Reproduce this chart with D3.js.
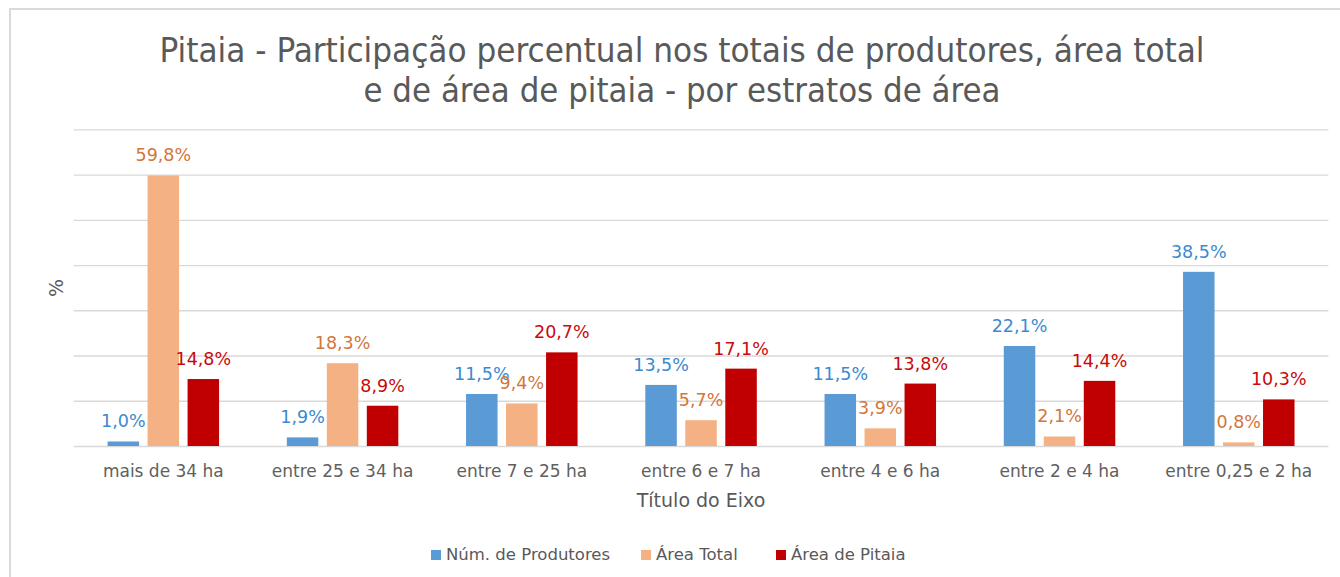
<!DOCTYPE html>
<html>
<head>
<meta charset="utf-8">
<script src="https://cdn.jsdelivr.net/npm/d3@7"></script>
<style>
    body { margin: 0; background: #fff; }
    svg { display: block; }
    text { font-family: 'DejaVu Sans', sans-serif; }
</style>
</head>
<body>
<div id="chart"></div>
<script>
const categories = ['mais de 34 ha', 'entre 25 e 34 ha', 'entre 7 e 25 ha', 'entre 6 e 7 ha', 'entre 4 e 6 ha', 'entre 2 e 4 ha', 'entre 0,25 e 2 ha'];
const seriesNames = ['Núm. de Produtores', 'Área Total', 'Área de Pitaia'];
const produtores = [1.0, 1.9, 11.5, 13.5, 11.5, 22.1, 38.5];
const areaTotal = [59.8, 18.3, 9.4, 5.7, 3.9, 2.1, 0.8];
const areaPitaia = [14.8, 8.9, 20.7, 17.1, 13.8, 14.4, 10.3];
const gridTicks = [0, 10, 20, 30, 40, 50, 60, 70];

const titleLines = ['Pitaia - Participação percentual nos totais de produtores, área total', 'e de área de pitaia - por estratos de área'];

const barColors = ['#5b9bd5', '#f4b183', '#c00000'];
const labelColors = ['#3a8ad0', '#d2773a', '#c80a0a'];

const WIDTH = 1340;
const HEIGHT = 577;
const plot = { left: 73.7, right: 1328.4, top: 129.3, bottom: 446 };

const svg = d3.select('#chart').append('svg').attr('width', WIDTH).attr('height', HEIGHT);

// frame of the pasted chart
svg.append('line').attr('x1', 9).attr('x2', WIDTH).attr('y1', 9).attr('y2', 9)
    .attr('stroke', '#d9d9d9').attr('stroke-width', 2);
svg.append('line').attr('x1', 10).attr('x2', 10).attr('y1', 8).attr('y2', HEIGHT)
    .attr('stroke', '#d9d9d9').attr('stroke-width', 2);

// title (condensed look, squeezed to the reference width)
svg.append('g').selectAll('text').data(titleLines).enter().append('text')
    .attr('x', 682)
    .attr('y', (d, i) => 62 + i * 40)
    .attr('text-anchor', 'middle')
    .attr('textLength', (d, i) => (i === 0 ? 1045 : 637))
    .attr('lengthAdjust', 'spacingAndGlyphs')
    .style('font-family', "'Liberation Sans Narrow', 'DejaVu Sans Condensed', sans-serif")
    .style('font-size', '33px')
    .attr('fill', '#595959')
    .text((d) => d);

const xScale = d3.scaleBand().domain(categories).range([plot.left, plot.right]);
const groupWidth = 111.5;
const subScale = d3.scaleBand().domain(seriesNames).range([0, groupWidth]).paddingInner(0.2125);
const yScale = d3.scaleLinear().domain([0, 70]).range([plot.bottom, plot.top]);

// horizontal grid lines
svg.append('g')
    .attr('transform', `translate(${plot.left}, 0)`)
    .call(d3.axisLeft(yScale).tickValues(gridTicks).tickSize(-(plot.right - plot.left)).tickFormat(''))
    .call((g) => g.select('.domain').remove())
    .call((g) => g.selectAll('.tick line').attr('stroke', '#d9d9d9').attr('stroke-width', 1.3));

const data = [];
categories.forEach((c, i) => {
    [produtores, areaTotal, areaPitaia].forEach((vals, s) => {
        data.push({ cat: c, series: seriesNames[s], s, value: vals[i] });
    });
});

const offset = (xScale.bandwidth() - groupWidth) / 2;
const barX = (d) => xScale(d.cat) + offset + subScale(d.series);

svg.append('g').selectAll('rect').data(data).enter().append('rect')
    .attr('x', barX)
    .attr('y', (d) => yScale(d.value))
    .attr('width', subScale.bandwidth())
    .attr('height', (d) => yScale(0) - yScale(d.value))
    .attr('fill', (d) => barColors[d.s]);

// value labels
svg.append('g').selectAll('text').data(data).enter().append('text')
    .attr('x', (d) => barX(d) + subScale.bandwidth() / 2)
    .attr('y', (d) => yScale(d.value) - 14)
    .attr('text-anchor', 'middle')
    .style('font-size', '17.5px')
    .attr('fill', (d) => labelColors[d.s])
    .text((d) => d3.format('.1f')(d.value).replace('.', ',') + '%');

// category axis
const xAxis = svg.append('g')
    .attr('transform', `translate(0, ${plot.bottom})`)
    .call(d3.axisBottom(xScale).tickSize(0).tickPadding(24));
xAxis.select('.domain').remove();
xAxis.selectAll('text')
    .attr('dy', 0)
    .attr('y', 31)
    .style('font-family', "'DejaVu Sans', sans-serif")
    .style('font-size', '17px')
    .attr('fill', '#606060');

// axis titles
svg.append('text')
    .attr('x', (plot.left + plot.right) / 2)
    .attr('y', 507)
    .attr('text-anchor', 'middle')
    .style('font-size', '19px')
    .attr('fill', '#595959')
    .text('Título do Eixo');

svg.append('text')
    .attr('transform', 'translate(63, 288) rotate(-90)')
    .attr('text-anchor', 'middle')
    .style('font-size', '19px')
    .attr('fill', '#595959')
    .text('%');

// legend
const legendX = [431, 641, 776];
const legend = svg.append('g').selectAll('g').data(seriesNames).enter().append('g')
    .attr('transform', (d, i) => `translate(${legendX[i]}, 550)`);
legend.append('rect').attr('width', 10).attr('height', 10).attr('fill', (d, i) => barColors[i]);
legend.append('text')
    .attr('x', 15)
    .attr('y', 10)
    .style('font-size', '16.5px')
    .attr('fill', '#595959')
    .text((d) => d);
</script>
</body>
</html>
